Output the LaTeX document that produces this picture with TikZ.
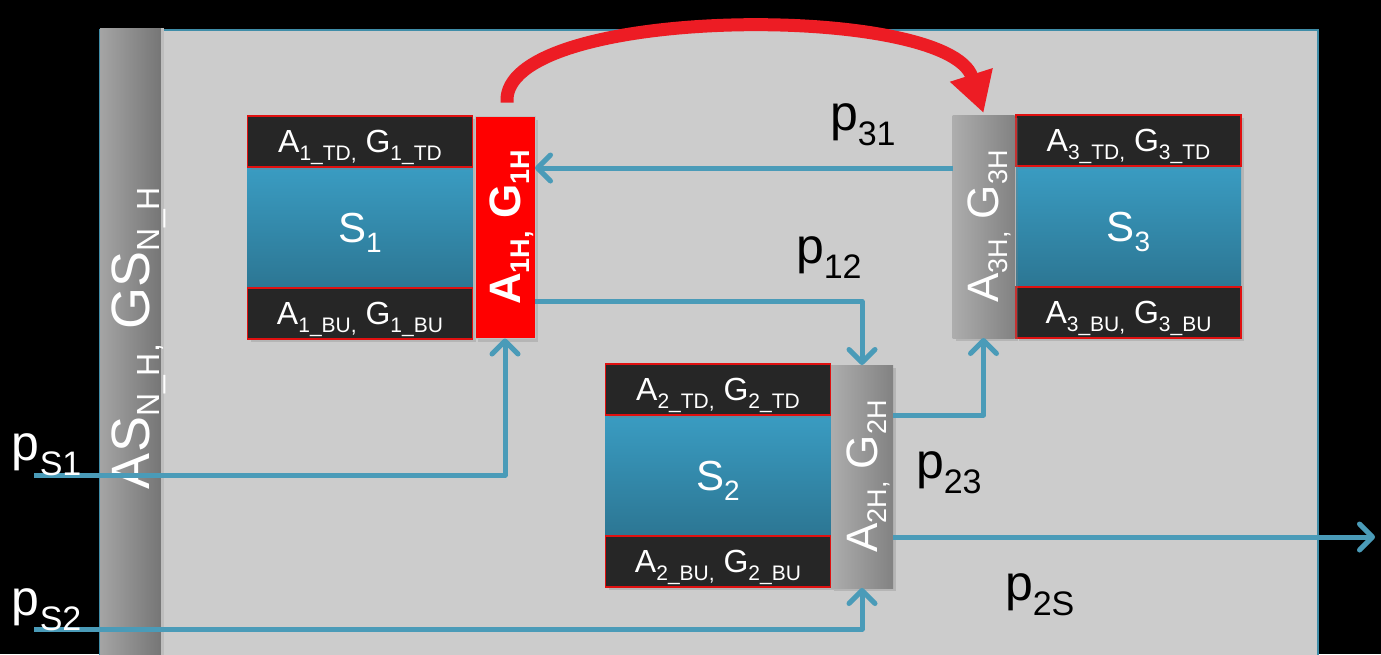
\documentclass[tikz,border=0pt]{standalone}
\usepackage{fontspec}
\setmainfont{Liberation Sans}
\usetikzlibrary{arrows.meta,shadows,calc}
\definecolor{panel}{HTML}{CCCCCC}
\definecolor{tealA}{HTML}{3A9CC2}
\definecolor{tealB}{HTML}{2C7693}
\definecolor{darkbox}{HTML}{262626}
\definecolor{redborder}{HTML}{E01010}
\definecolor{flow}{HTML}{4A9BB8}
\definecolor{arrowred}{HTML}{ED1C24}
\definecolor{grayL}{HTML}{ADADAD}
\definecolor{grayD}{HTML}{828282}
\definecolor{frameline}{HTML}{3F8DA8}
\definecolor{barhl}{HTML}{BDBDBD}
\newcommand\fs[1]{\fontsize{#1}{#1}\selectfont}
\newcommand\lowsub[3]{\raisebox{-#1}{\fs{#2}#3}}
\newcommand\boxtxt[2]{{\fs{32}A\lowsub{8pt}{21}{#1\_#2,}\ G\lowsub{8pt}{21}{#1\_#2}}}
\newcommand\stxt[1]{{\fs{42}S\lowsub{10pt}{28}{#1}}}
\newcommand\htxt[1]{{\fs{44}A\lowsub{9pt}{27}{#1H,}\ G\lowsub{9pt}{27}{#1H}}}
\newcommand\plab[1]{{\fs{50}p\lowsub{15pt}{34}{#1}}}
\tikzset{
  every node/.style={inner sep=0pt, outer sep=0pt},
  boxshadow/.style={drop shadow={shadow xshift=3pt, shadow yshift=-3pt, opacity=0.3}},
  dbox/.style={draw=redborder, line width=1.5pt, fill=darkbox, minimum width=225pt,
    minimum height=51pt, text=white, text depth=0pt, boxshadow},
  sbox/.style={top color=tealA, bottom color=tealB, minimum width=225pt,
    minimum height=121pt, text=white, text depth=0pt, boxshadow},
  hred/.style={fill=red, draw=gray!50, line width=1pt, minimum width=60pt, minimum height=222pt, boxshadow},
  hgray/.style={left color=grayL, right color=grayD, minimum width=62pt, minimum height=223pt, boxshadow},
  lbar/.style={left color=grayL!95!black, right color=grayD!90!black, minimum width=62pt, minimum height=640pt},
  rot/.style={rotate=90, text=white, text depth=0pt},
  flowline/.style={draw=flow, line width=5pt, line join=round,
    -{Straight Barb[length=13pt, width=26pt, line cap=round, line join=round]}},
  plbl/.style={anchor=base west, text=black},
}
\begin{document}
\begin{tikzpicture}[x=1pt,y=-1pt]
\clip (0,0) rectangle (1381,654);
\fill[black] (0,0) rectangle (1381,654);
% panel
\draw[draw=frameline, line width=1.5pt, fill=panel] (100,30) rectangle (1318,720);
% left bar
\node[lbar] (nb) at (131,348) {};
\draw[barhl, line width=3pt] (nb.north east) -- (nb.south east);
\node[rot] (nbt) at (131,338) {\fs{54}AS\lowsub{10pt}{32}{N\_H,}\ GS\lowsub{10pt}{32}{N\_H}};
% group 1
\node[sbox] (s1) at (360,227.5) {\stxt{1}};
\node[dbox] (t1) at (360,141.5) {\boxtxt{1}{TD}};
\node[dbox] (b1) at (360,313.5) {\boxtxt{1}{BU}};
\node[hred] (h1) at (505,227.5) {};
\node[rot, font=\bfseries] (h1t) at (h1.center) {\htxt{1}};
% group 2
\node[sbox] (s2) at (718,475.5) {\stxt{2}};
\node[dbox] (t2) at (718,389.5) {\boxtxt{2}{TD}};
\node[dbox] (b2) at (718,561.5) {\boxtxt{2}{BU}};
\node[hgray] (h2) at (862,476.5) {};
\node[rot] (h2t) at (h2.center) {\htxt{2}};
% group 3
\node[sbox] (s3) at (1128.5,226.5) {\stxt{3}};
\node[dbox] (t3) at (1128.5,140.5) {\boxtxt{3}{TD}};
\node[dbox] (b3) at (1128.5,312.5) {\boxtxt{3}{BU}};
\node[hgray] (h3) at (983.5,226.5) {};
\node[rot] (h3t) at (h3.center) {\htxt{3}};
% connectors
\coordinate (s1in) at (34,475);
\coordinate (s2in) at (34,629);
\coordinate (out) at (1375,537);
\draw[flowline] (s1in) -| (h1.south);
\draw[flowline] (s2in) -| (h2.south);
\draw[flowline] ($(h1.south east)+(0,-37)$) -| (h2.north);
\draw[flowline] ($(h3.north west)+(0,53)$) coordinate (p31a) -- (p31a -| h1.east);
\draw[flowline] ($(h2.north east)+(0,50)$) -| (h3.south);
\draw[flowline] ($(h2.north east)+(0,172)$) -- (out);
% red arrow
\coordinate (ra) at ($(h1.north)+(2,-14)$);
\coordinate (rb) at ($(h3.north)+(0,-2)$);
\draw[arrowred, line width=13pt, -{Triangle[length=40pt, width=42pt]}]
  (ra) .. controls (500,5) and (948,2) .. (rb);
% labels
\node[plbl, text=white] (lS1) at (12,460) {\plab{S1}};
\node[plbl, text=white] (lS2) at (12,615) {\plab{S2}};
\node[plbl] (l31) at (830,130) {\plab{31}};
\node[plbl] (l12) at (796,263) {\plab{12}};
\node[plbl] (l23) at (916,478) {\plab{23}};
\node[plbl] (l2S) at (1005,600) {\plab{2S}};
\end{tikzpicture}
\end{document}
